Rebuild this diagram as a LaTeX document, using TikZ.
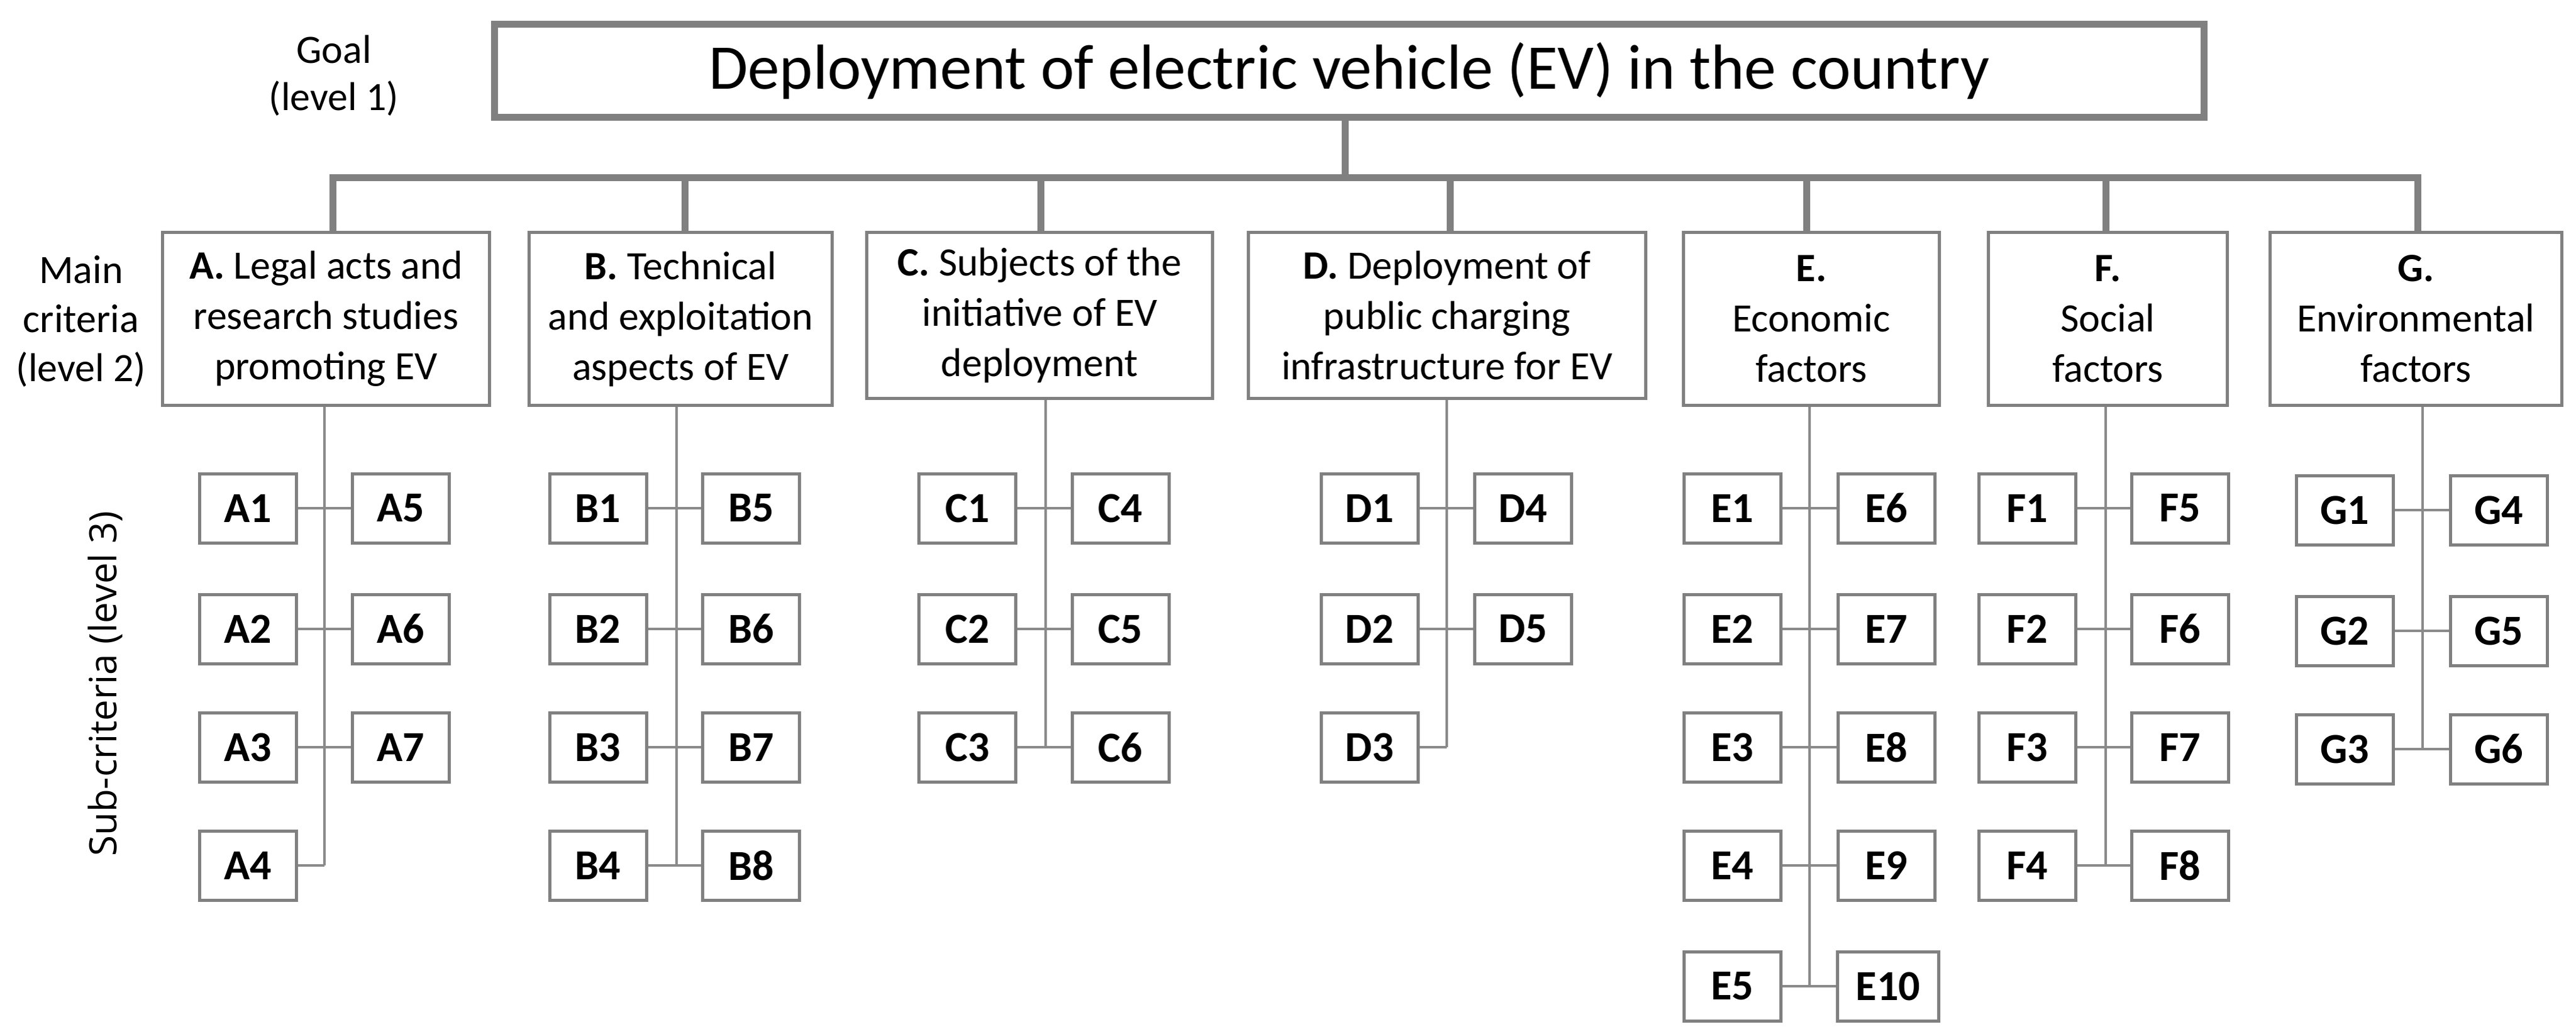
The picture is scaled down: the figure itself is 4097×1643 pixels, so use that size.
\documentclass[tikz,border=0pt]{standalone}
\usepackage{fontspec}
\setmainfont{Carlito}
\newfontfamily\labelfont{Open Sans}
\definecolor{boxgray}{RGB}{128,128,128}
\definecolor{linegray}{RGB}{138,138,138}
\begin{document}
\begin{tikzpicture}[x=0.25pt,y=-0.25pt,
  goalbox/.style={draw=boxgray,line width=2.75pt,minimum width=679.75pt,minimum height=37pt,inner sep=0pt,font=\fontsize{25.3}{30}\selectfont},
  critbox/.style={draw=boxgray,line width=1.25pt,inner sep=0pt,align=center,font=\fontsize{16}{20}\selectfont},
  subbox/.style={draw=boxgray,line width=1.25pt,minimum width=38.5pt,minimum height=27.5pt,inner xsep=7.3pt,inner ysep=0pt,font=\bfseries\fontsize{17}{20}\selectfont},
  busline/.style={draw=boxgray,line width=2.75pt},
  conn/.style={draw=linegray,line width=1.1pt},
  lvl/.style={align=center,font=\fontsize{16}{18.75}\selectfont}]
\useasboundingbox (0,0) rectangle (4097,1643);

% level labels
\node[lvl] (goallbl) at (531,120) {Goal\\(level 1)};
\node[lvl,font=\fontsize{16}{19.5}\selectfont] (mainlbl) at (129,511) {Main\\criteria\\(level 2)};
\node[rotate=90,font=\labelfont\fontsize{15}{18}\selectfont] (sublbl) at (167,1087) {Sub-criteria (level 3)};

% goal
\node[goalbox] (goal) at (2146,112.5) {Deployment of electric vehicle (EV) in the country};

% main criteria
\node[critbox,minimum width=130pt,minimum height=68.75pt] (A) at (518.5,507) {\textbf{A.} Legal acts and\\research studies\\promoting EV};
\node[critbox,minimum width=120.5pt,minimum height=68.75pt] (B) at (1082.5,507) {\textbf{B.} Technical\\and exploitation\\aspects of EV};
\node[critbox,minimum width=137.5pt,minimum height=66pt] (C) at (1653.5,501.5) {\textbf{C.} Subjects of the\\initiative of EV\\deployment};
\node[critbox,minimum width=158pt,minimum height=66pt] (D) at (2301.5,501.5) {\textbf{D.} Deployment of\\public charging\\infrastructure for EV};
\node[critbox,minimum width=101.75pt,minimum height=68.75pt] (E) at (2881,507) {\textbf{E.}\\Economic\\factors};
\node[critbox,minimum width=95pt,minimum height=68.75pt] (F) at (3352.5,507) {\textbf{F.}\\Social\\factors};
\node[critbox,minimum width=116pt,minimum height=68.75pt] (G) at (3842.5,507) {\textbf{G.}\\Environmental\\factors};

% bus
\coordinate (busA) at (529,282);
\coordinate (busB) at (1089,282);
\coordinate (busC) at (1655,282);
\coordinate (busD) at (2306,282);
\coordinate (busE) at (2873,282);
\coordinate (busF) at (3349,282);
\coordinate (busG) at (3845,282);
\coordinate (busGoal) at (2139,282);
\draw[busline] (busA |- A.north) -- (busA) -- (busG) -- (busG |- G.north);
\draw[busline] (goal.south -| busGoal) -- (busGoal);
\draw[busline] (busB) -- (busB |- B.north);
\draw[busline] (busC) -- (busC |- C.north);
\draw[busline] (busD) -- (busD |- D.north);
\draw[busline] (busE) -- (busE |- E.north);
\draw[busline] (busF) -- (busF |- F.north);

% ---------- A ----------
\node[subbox] (A1) at (394.5,808) {A1};
\node[subbox] (A2) at (394.5,1000) {A2};
\node[subbox] (A3) at (394.5,1188) {A3};
\node[subbox] (A4) at (394.5,1376) {A4};
\node[subbox] (A5) at (637.5,808) {A5};
\node[subbox] (A6) at (637.5,1000) {A6};
\node[subbox] (A7) at (637.5,1188) {A7};
\coordinate (Aend) at (516,1376);
\draw[conn] (A.south -| Aend) -- (Aend);
\draw[conn] (A1.east) -- (A5.west);
\draw[conn] (A2.east) -- (A6.west);
\draw[conn] (A3.east) -- (A7.west);
\draw[conn] (A4.east) -- (Aend);

% ---------- B ----------
\node[subbox] (B1) at (951,808) {B1};
\node[subbox] (B2) at (951,1000) {B2};
\node[subbox] (B3) at (951,1188) {B3};
\node[subbox] (B4) at (951,1376) {B4};
\node[subbox] (B5) at (1194.5,808) {B5};
\node[subbox] (B6) at (1194.5,1000) {B6};
\node[subbox] (B7) at (1194.5,1188) {B7};
\node[subbox] (B8) at (1194.5,1376) {B8};
\coordinate (Bend) at (1076,1376);
\draw[conn] (B.south -| Bend) -- (Bend);
\draw[conn] (B1.east) -- (B5.west);
\draw[conn] (B2.east) -- (B6.west);
\draw[conn] (B3.east) -- (B7.west);
\draw[conn] (B4.east) -- (B8.west);

% ---------- C ----------
\node[subbox] (C1) at (1538.5,808) {C1};
\node[subbox] (C2) at (1538.5,1000) {C2};
\node[subbox] (C3) at (1538.5,1188) {C3};
\node[subbox] (C4) at (1782,808) {C4};
\node[subbox] (C5) at (1782,1000) {C5};
\node[subbox] (C6) at (1782,1188) {C6};
\coordinate (Cend) at (1663,1188);
\draw[conn] (C.south -| Cend) -- (Cend);
\draw[conn] (C1.east) -- (C4.west);
\draw[conn] (C2.east) -- (C5.west);
\draw[conn] (C3.east) -- (C6.west);

% ---------- D ----------
\node[subbox] (D1) at (2178,808) {D1};
\node[subbox] (D2) at (2178,1000) {D2};
\node[subbox] (D3) at (2178,1188) {D3};
\node[subbox] (D4) at (2422,808) {D4};
\node[subbox] (D5) at (2422,1000) {D5};
\coordinate (Dend) at (2301,1188);
\draw[conn] (D.south -| Dend) -- (Dend);
\draw[conn] (D1.east) -- (D4.west);
\draw[conn] (D2.east) -- (D5.west);
\draw[conn] (D3.east) -- (Dend);

% ---------- E ----------
\node[subbox] (E1) at (2755,808) {E1};
\node[subbox] (E2) at (2755,1000) {E2};
\node[subbox] (E3) at (2755,1188) {E3};
\node[subbox] (E4) at (2755,1376) {E4};
\node[subbox] (E5) at (2755,1568) {E5};
\node[subbox] (E6) at (3000,808) {E6};
\node[subbox] (E7) at (3000,1000) {E7};
\node[subbox] (E8) at (3000,1188) {E8};
\node[subbox] (E9) at (3000,1376) {E9};
\node[subbox] (E10) at (3003,1568) {E10};
\coordinate (Eend) at (2878,1568);
\draw[conn] (E.south -| Eend) -- (Eend);
\draw[conn] (E1.east) -- (E6.west);
\draw[conn] (E2.east) -- (E7.west);
\draw[conn] (E3.east) -- (E8.west);
\draw[conn] (E4.east) -- (E9.west);
\draw[conn] (E5.east) -- (E10.west);

% ---------- F ----------
\node[subbox] (F1) at (3224.5,808) {F1};
\node[subbox] (F2) at (3224.5,1000) {F2};
\node[subbox] (F3) at (3224.5,1188) {F3};
\node[subbox] (F4) at (3224.5,1376) {F4};
\node[subbox] (F5) at (3467,808) {F5};
\node[subbox] (F6) at (3467,1000) {F6};
\node[subbox] (F7) at (3467,1188) {F7};
\node[subbox] (F8) at (3467,1376) {F8};
\coordinate (Fend) at (3349,1376);
\draw[conn] (F.south -| Fend) -- (Fend);
\draw[conn] (F1.east) -- (F5.west);
\draw[conn] (F2.east) -- (F6.west);
\draw[conn] (F3.east) -- (F7.west);
\draw[conn] (F4.east) -- (F8.west);

% ---------- G ----------
\node[subbox] (G1) at (3729,811) {G1};
\node[subbox] (G2) at (3729,1003) {G2};
\node[subbox] (G3) at (3729,1191) {G3};
\node[subbox] (G4) at (3974.5,811) {G4};
\node[subbox] (G5) at (3974.5,1003) {G5};
\node[subbox] (G6) at (3974.5,1191) {G6};
\coordinate (Gend) at (3853,1191);
\draw[conn] (G.south -| Gend) -- (Gend);
\draw[conn] (G1.east) -- (G4.west);
\draw[conn] (G2.east) -- (G5.west);
\draw[conn] (G3.east) -- (G6.west);
\end{tikzpicture}
\end{document}
